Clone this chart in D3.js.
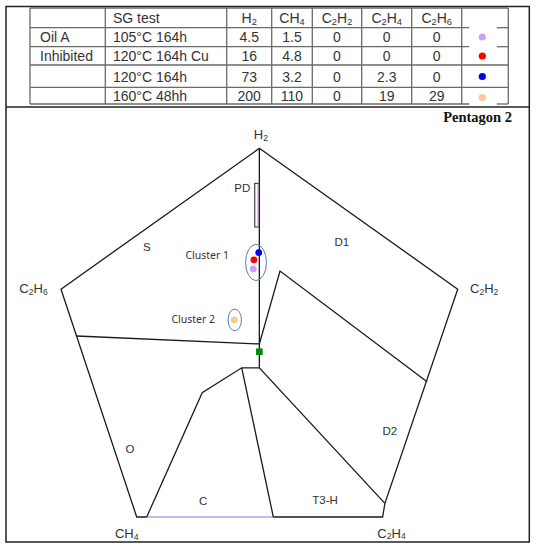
<!DOCTYPE html>
<html>
<head>
<meta charset="utf-8">
<script src="https://cdn.jsdelivr.net/npm/d3@7"></script>
<style>
  body { margin: 0; background: #fff; }
  svg { display: block; }
  text { fill: #333; }
</style>
</head>
<body>
<script>
"use strict"

/* dati della tabella */
const gasNames = ["H2", "CH4", "C2H2", "C2H4", "C2H6"];
const oilLabels = ["Oil A", "Inhibited", "", ""];
const sgTests = ["105°C 164h", "120°C 164h Cu", "120°C 164h", "160°C 48hh"];
const h2Values = ["4.5", "16", "73", "200"];
const ch4Values = ["1.5", "4.8", "3.2", "110"];
const c2h2Values = ["0", "0", "0", "0"];
const c2h4Values = ["0", "0", "2.3", "19"];
const c2h6Values = ["0", "0", "0", "29"];
const pointColors = ["#c9a2f3", "#ff0000", "#0000ee", "#fcc796"];

/* posizione dei punti nel pentagono (coordinate di Duval) */
const pointU = [-2.9, -2.6, -0.3, -12.0];
const pointV = [40.8, 45.3, 48.8, 15.8];

/* vertici del pentagono */
const vertexNames = ["H2", "C2H6", "CH4", "C2H4", "C2H2"];
const vertexU = [0, -95.1, -58.8, 58.8, 95.1];
const vertexV = [100, 30.9, -80.9, -80.9, 30.9];

/* linee delle zone (coordinate di Duval) */
const zoneLines = [
  [[0, 100], [-95.1, 30.9], [-58.8, -80.9], [-54, -80.9]],
  [[6.7, -80.9], [59.1, -80.9], [60.2, -74.2], [95.1, 30.9], [0, 100]],
  [[0, 100], [0, -7.7]],
  [[-87.6, 7.9], [0, 4]],
  [[0, 4], [9.9, 39.8], [80.4, -14.5]],
  [[-54, -80.9], [-27.4, -19.9], [-8.45, -7.7], [0, -7.7], [60.2, -74.2]],
  [[-8.45, -7.7], [6.7, -80.9]]
];
const baseC = [[-54, -80.9], [6.7, -80.9]];
const pdBox = [[-2.2, 82.8], [0, 61.4]];

/* nomi delle zone */
const zoneNames = ["PD", "S", "D1", "D2", "O", "C", "T3-H"];
const zoneU = [-8.2, -53.9, 39.5, 62.6, -62, -27, 31.5];
const zoneV = [80.6, 51.4, 54, -38.6, -47.5, -73.2, -72.4];

/* cluster */
const clusterNames = ["Cluster 1", "Cluster 2"];
const clusterU = [-1.6, -11.8];
const clusterV = [44.0, 15.8];
const clusterRu = [5.0, 3.2];
const clusterRv = [8.9, 5.3];
const clusterLabelU = [-25, -31.7];
const clusterLabelV = [47.6, 16.2];
const greenPoint = [0, 0.2];

const sans = "'Liberation Sans', Arial, sans-serif";

const svg = d3.select("body").append("svg")
  .attr("width", 536).attr("height", 550)
  .style("font-family", sans);

/* scrive una formula chimica con i pedici */
function formula(sel, f, size) {
  let giu = false;
  f.match(/[A-Za-z]+|\d+/g).forEach(function (p) {
    const t = sel.append("tspan").text(p);
    if (/\d/.test(p)) {
      t.attr("font-size", size * 0.66).attr("dy", size * 0.15);
      giu = true;
    } else if (giu) {
      t.attr("dy", -size * 0.15);
      giu = false;
    }
  });
}

/* cornice */
svg.append("rect").attr("x", 6).attr("y", 6.5).attr("width", 523.3).attr("height", 535.5)
  .attr("fill", "none").attr("stroke", "#222").attr("stroke-width", 1.5);
svg.append("line").attr("x1", 6).attr("x2", 529.3).attr("y1", 107).attr("y2", 107)
  .attr("stroke", "#222").attr("stroke-width", 1.5);

/* tabella */
const colX = [30, 105.3, 226.7, 271.7, 312.3, 361.7, 411.7, 461.7, 508.3];
const rowY = [8, 27.7, 46.7, 65, 87.3, 104];
const tab = svg.append("g").attr("stroke", "#6a6a6a").attr("stroke-width", 1.3);
colX.forEach(function (x) {
  tab.append("line").attr("x1", x).attr("x2", x).attr("y1", rowY[0]).attr("y2", rowY[5]);
});
rowY.forEach(function (y, i) {
  const full = (i == 0 || i == 3 || i == 4);
  tab.append("line").attr("x1", colX[0]).attr("x2", full ? colX[8] : colX[7] + 7.5)
    .attr("y1", y).attr("y2", y);
  if (!full) {
    tab.append("line").attr("x1", colX[8] - 11.5).attr("x2", colX[8]).attr("y1", y).attr("y2", y);
  }
});

const fsTab = 14;
const rowMid = [18, 37, 56, 76.5, 96];
svg.append("text").attr("x", 113).attr("y", rowMid[0] + 5).attr("font-size", fsTab).text("SG test");
gasNames.forEach(function (g, i) {
  const t = svg.append("text").attr("x", (colX[i + 2] + colX[i + 3]) / 2).attr("y", rowMid[0] + 5)
    .attr("font-size", fsTab).attr("text-anchor", "middle");
  formula(t, g, fsTab);
});
const valueCols = [h2Values, ch4Values, c2h2Values, c2h4Values, c2h6Values];
sgTests.forEach(function (s, r) {
  const y = rowMid[r + 1] + 5;
  svg.append("text").attr("x", 40).attr("y", y).attr("font-size", fsTab).text(oilLabels[r]);
  svg.append("text").attr("x", 113).attr("y", y).attr("font-size", fsTab).text(s);
  valueCols.forEach(function (vals, c) {
    svg.append("text").attr("x", (colX[c + 2] + colX[c + 3]) / 2).attr("y", y)
      .attr("font-size", fsTab).attr("text-anchor", "middle").text(vals[r]);
  });
  svg.append("circle").attr("cx", 482.3).attr("cy", rowMid[r + 1] + (r == 3 ? 1.5 : 0)).attr("r", 3.6)
    .attr("fill", pointColors[r]);
});

/* pentagono */
const x = d3.scaleLinear().domain([-95.1, 95.1]).range([61, 457.7]);
const y = d3.scaleLinear().domain([100, -80.9]).range([148.3, 517]);
const linea = d3.line().x(function (d) { return x(d[0]) }).y(function (d) { return y(d[1]) });

svg.append("text").attr("x", 512).attr("y", 122).attr("text-anchor", "end")
  .style("font-family", "'Liberation Serif', 'Times New Roman', serif")
  .attr("font-weight", "bold").attr("font-size", 14.5).style("fill", "#111").text("Pentagon 2");

svg.append("path").attr("d", linea(baseC)).attr("fill", "none")
  .attr("stroke", "#a9a9df").attr("stroke-width", 1.6);

svg.selectAll("path.zona").data(zoneLines).enter().append("path")
  .attr("class", "zona").attr("d", linea).attr("fill", "none")
  .attr("stroke", "#1a1a1a").attr("stroke-width", 1.3).attr("stroke-linejoin", "miter");

/* PD */
svg.append("rect").attr("x", x(pdBox[0][0])).attr("y", y(pdBox[0][1]))
  .attr("width", x(pdBox[1][0]) - x(pdBox[0][0])).attr("height", y(pdBox[1][1]) - y(pdBox[0][1]))
  .attr("fill", "none").attr("stroke", "#222").attr("stroke-width", 1);
svg.append("line").attr("x1", x(pdBox[1][0]) - 1.2).attr("x2", x(pdBox[1][0]) - 1.2)
  .attr("y1", y(pdBox[0][1])).attr("y2", y(pdBox[1][1]))
  .attr("stroke", "#b070c0").attr("stroke-width", 1);

/* nomi dei vertici */
const vtxDx = [1.5, -27.5, -10, 9.5, 26.5];
const vtxDy = [-9.5, 4, 21, 20.5, 3.5];
vertexNames.forEach(function (n, i) {
  const t = svg.append("text").attr("x", x(vertexU[i]) + vtxDx[i]).attr("y", y(vertexV[i]) + vtxDy[i])
    .attr("font-size", 13).attr("text-anchor", "middle");
  formula(t, n, 13);
});

/* nomi delle zone */
zoneNames.forEach(function (n, i) {
  svg.append("text").attr("x", x(zoneU[i])).attr("y", y(zoneV[i]) + 4)
    .attr("font-size", 11.5).attr("text-anchor", "middle").text(n);
});

/* cluster */
svg.append("clipPath").attr("id", "taglio").append("rect")
  .attr("x", 0).attr("y", 0).attr("width", 536).attr("height", 325.5);
clusterNames.forEach(function (n, i) {
  svg.append("ellipse").attr("cx", x(clusterU[i])).attr("cy", y(clusterV[i]))
    .attr("rx", x(clusterRu[i]) - x(0)).attr("ry", y(0) - y(clusterRv[i]))
    .attr("fill", "none").attr("stroke", "#5a7db3").attr("stroke-width", 1);
  svg.append("text").attr("x", x(clusterLabelU[i])).attr("y", y(clusterLabelV[i]) + 4)
    .style("font-family", "'Noto Sans', sans-serif").attr("font-size", 10.5)
    .attr("text-anchor", "middle")
    .attr("clip-path", i == 1 ? "url(#taglio)" : null).text(n);
});

svg.selectAll("circle.punto").data(pointU).enter().append("circle")
  .attr("class", "punto")
  .attr("cx", function (d) { return x(d) })
  .attr("cy", function (d, i) { return y(pointV[i]) })
  .attr("r", 3.4)
  .attr("fill", function (d, i) { return pointColors[i] });

svg.append("rect").attr("x", x(greenPoint[0]) - 3.3).attr("y", y(greenPoint[1]) - 3.3)
  .attr("width", 6.6).attr("height", 6.6).attr("fill", "#008a00");
</script>
</body>
</html>
